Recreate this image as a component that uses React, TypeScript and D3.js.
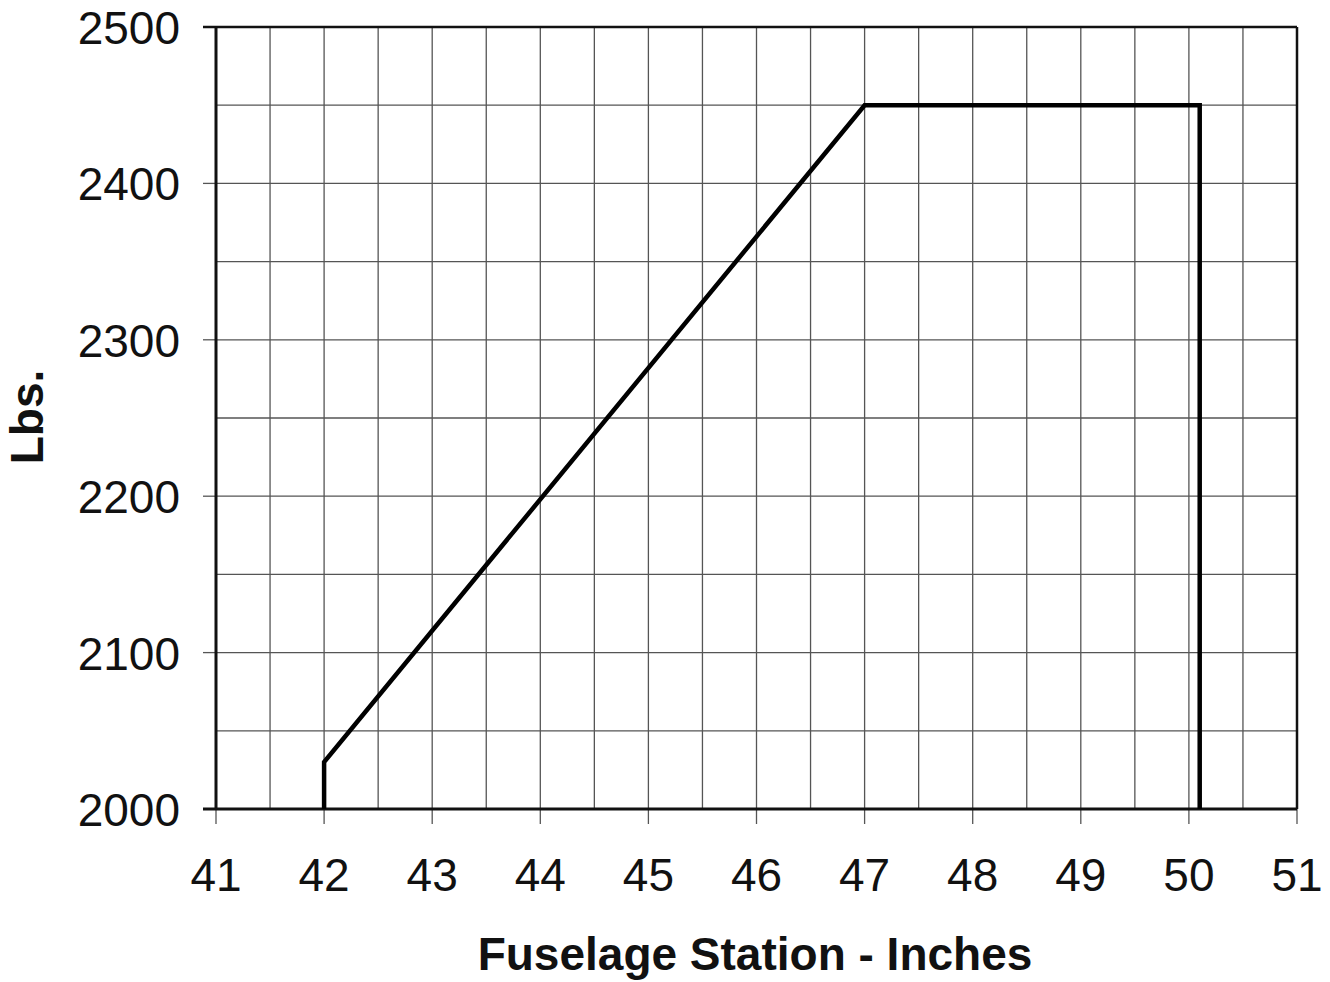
import React, { useEffect, useRef } from "react";
import * as d3 from "d3";

const xTicks = [41, 42, 43, 44, 45, 46, 47, 48, 49, 50, 51];
const yTicks = [2000, 2100, 2200, 2300, 2400, 2500];
const envelopeX = [42, 42, 47, 50.1, 50.1];
const envelopeY = [2000, 2030, 2450, 2450, 2000];
const xTitle = "Fuselage Station - Inches";
const yTitle = "Lbs.";

const W = 1330;
const H = 982;
const M = { left: 216, right: 1297, top: 27, bottom: 809 };

export default function App() {
  const ref = useRef<SVGSVGElement>(null);
  useEffect(() => {
    const svg = d3.select(ref.current);
    svg.selectAll("*").remove();
    const x = d3.scaleLinear().domain([41, 51]).range([M.left, M.right]);
    const y = d3.scaleLinear().domain([2000, 2500]).range([M.bottom, M.top]);
    const font = "'Liberation Sans', Arial, sans-serif";

    svg.append("rect").attr("width", W).attr("height", H).attr("fill", "#fff");

    const g = svg.append("g");
    // grid
    const xGrid = d3.range(41, 51.01, 0.5);
    const yGrid = d3.range(2000, 2500.1, 50);
    g.selectAll(".vg").data(xGrid).enter().append("line")
      .attr("x1", (d) => x(d)).attr("x2", (d) => x(d))
      .attr("y1", M.top).attr("y2", M.bottom)
      .attr("stroke", "#555").attr("stroke-width", 1.3);
    g.selectAll(".hg").data(yGrid).enter().append("line")
      .attr("x1", M.left).attr("x2", M.right)
      .attr("y1", (d) => y(d)).attr("y2", (d) => y(d))
      .attr("stroke", "#555").attr("stroke-width", 1.3);

    // ticks
    g.selectAll(".xt").data(xTicks).enter().append("line")
      .attr("x1", (d) => x(d)).attr("x2", (d) => x(d))
      .attr("y1", M.bottom).attr("y2", M.bottom + 15)
      .attr("stroke", "#555").attr("stroke-width", 1.3);
    g.selectAll(".yt").data(yTicks).enter().append("line")
      .attr("x1", M.left - 13).attr("x2", M.left)
      .attr("y1", (d) => y(d)).attr("y2", (d) => y(d))
      .attr("stroke", "#555").attr("stroke-width", 1.3);

    // frame
    g.append("line").attr("x1", M.left - 13).attr("x2", M.right).attr("y1", M.top).attr("y2", M.top)
      .attr("stroke", "#111").attr("stroke-width", 2.5);
    g.append("line").attr("x1", M.right).attr("x2", M.right).attr("y1", M.top).attr("y2", M.bottom)
      .attr("stroke", "#111").attr("stroke-width", 2.5);
    g.append("line").attr("x1", M.left).attr("x2", M.left).attr("y1", M.top).attr("y2", M.bottom)
      .attr("stroke", "#111").attr("stroke-width", 3);
    g.append("line").attr("x1", M.left - 13).attr("x2", M.right).attr("y1", M.bottom).attr("y2", M.bottom)
      .attr("stroke", "#111").attr("stroke-width", 3);

    // envelope
    const pts: [number, number][] = envelopeX.map((v, i) => [v, envelopeY[i]]);
    const line = d3.line<[number, number]>().x((d) => x(d[0])).y((d) => y(d[1]));
    g.append("path").attr("d", line(pts) as string)
      .attr("fill", "none").attr("stroke", "#000").attr("stroke-width", 4.5)
      .attr("stroke-linejoin", "miter");

    // labels
    g.selectAll(".xl").data(xTicks).enter().append("text")
      .attr("x", (d) => x(d)).attr("y", 891)
      .attr("text-anchor", "middle").attr("font-family", font).attr("font-size", 46)
      .attr("fill", "#111").text((d) => String(d));
    g.selectAll(".yl").data(yTicks).enter().append("text")
      .attr("x", 180).attr("y", (d) => y(d) + 17)
      .attr("text-anchor", "end").attr("font-family", font).attr("font-size", 46)
      .attr("fill", "#111").text((d) => String(d));

    g.append("text").attr("x", 755).attr("y", 970)
      .attr("text-anchor", "middle").attr("font-family", font).attr("font-size", 46)
      .attr("font-weight", "bold").attr("fill", "#111").text(xTitle);
    g.append("text").attr("transform", "translate(43,417) rotate(-90)")
      .attr("text-anchor", "middle").attr("font-family", font).attr("font-size", 46)
      .attr("font-weight", "bold").attr("fill", "#111").text(yTitle);
  }, []);
  return (
    <svg ref={ref} width={W} height={H}
      style={{ position: "absolute", left: 0, top: 0, display: "block" }} />
  );
}
